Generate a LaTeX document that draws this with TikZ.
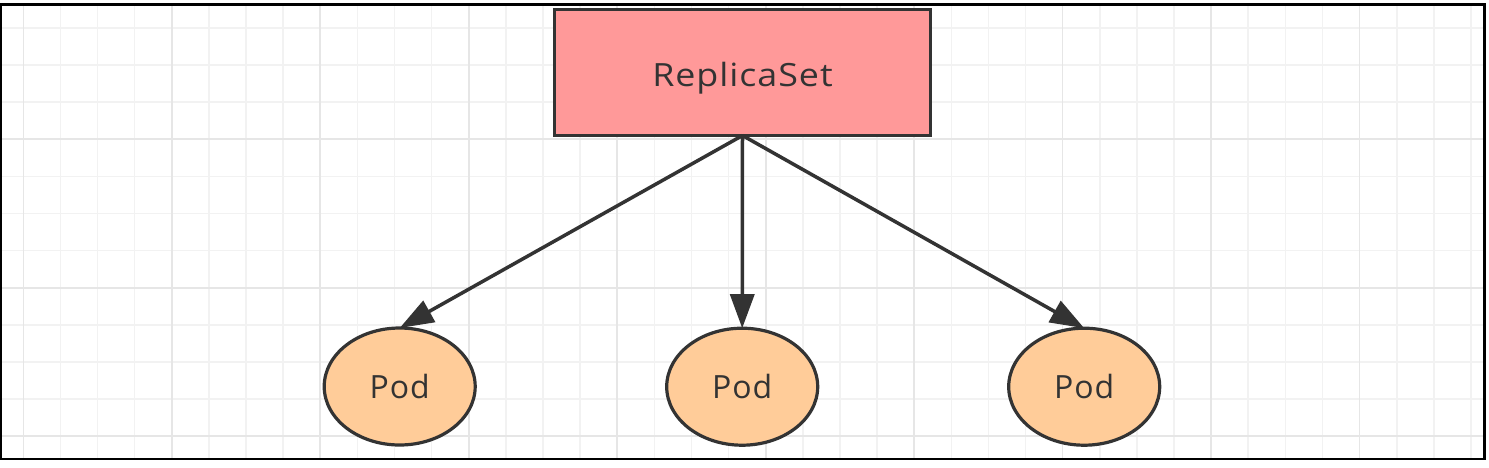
\documentclass[tikz,border=0pt]{standalone}
\usepackage{fontspec}
\setmainfont{Open Sans}
\newfontfamily\rsfont[FakeStretch=1.12,LetterSpace=3]{Open Sans}
\newfontfamily\podfont[LetterSpace=3]{Open Sans}
\usetikzlibrary{arrows.meta,shapes.geometric}
\definecolor{rsfill}{HTML}{FF9999}
\definecolor{podfill}{HTML}{FFCC99}
\definecolor{ink}{HTML}{333333}
\definecolor{gridminor}{HTML}{F2F2F2}
\definecolor{gridmajor}{HTML}{E6E6E6}
\begin{document}
\begin{tikzpicture}[x=1pt,y=-1pt,
  rsbox/.style={draw=ink, line width=3.3pt, fill=rsfill, rectangle,
    minimum width=376pt, minimum height=126pt, inner sep=0pt, outer sep=0pt,
    text=ink, font=\rsfont\fontsize{32}{38}\selectfont},
  podnode/.style={draw=ink, line width=3.2pt, fill=podfill, ellipse,
    minimum width=151pt, minimum height=117pt, inner sep=0pt, outer sep=0pt,
    text=ink, font=\podfont\fontsize{32}{38}\selectfont},
  link/.style={draw=ink, line width=3.5pt, -{Triangle[length=34pt,width=24pt]}},
  minorline/.style={gridminor, line width=1.6pt},
  majorline/.style={gridmajor, line width=1.6pt}]
\useasboundingbox (0,0) rectangle (1489,467);
\fill[white] (0,0) rectangle (1489,467);
\begin{scope}
  \clip (1,4.3) rectangle (1484.5,459);
  \foreach \i in {0,...,40} {
    \draw[minorline] ({23.3+37.12*\i},0) -- ++(0,467);
  }
  \foreach \j in {-1,...,13} {
    \draw[minorline] (0,{-9.2+37.12*\j}) -- ++(1489,0);
  }
  \foreach \i in {0,...,10} {
    \draw[majorline] ({23.3+148.48*\i},0) -- ++(0,467);
  }
  \foreach \j in {0,...,3} {
    \draw[majorline] (0,{-9.2+148.48*\j}) -- ++(1489,0);
  }
\end{scope}
\draw[black, line width=2.6pt] (1,4.3) rectangle (1484.5,459);

\node[rsbox] (rs) at (742.5,72.5) {\raisebox{-5.5pt}[\height][\depth]{ReplicaSet}};
\node[podnode] (p1) at (399.7,386.5) {Pod};
\node[podnode] (p2) at (742.2,386.7) {Pod};
\node[podnode] (p3) at (1084.2,386.7) {Pod};

\draw[link] (rs.south) -- (p1.north);
\draw[link] (rs.south) -- (p2.north);
\draw[link] (rs.south) -- (p3.north);
\end{tikzpicture}
\end{document}
